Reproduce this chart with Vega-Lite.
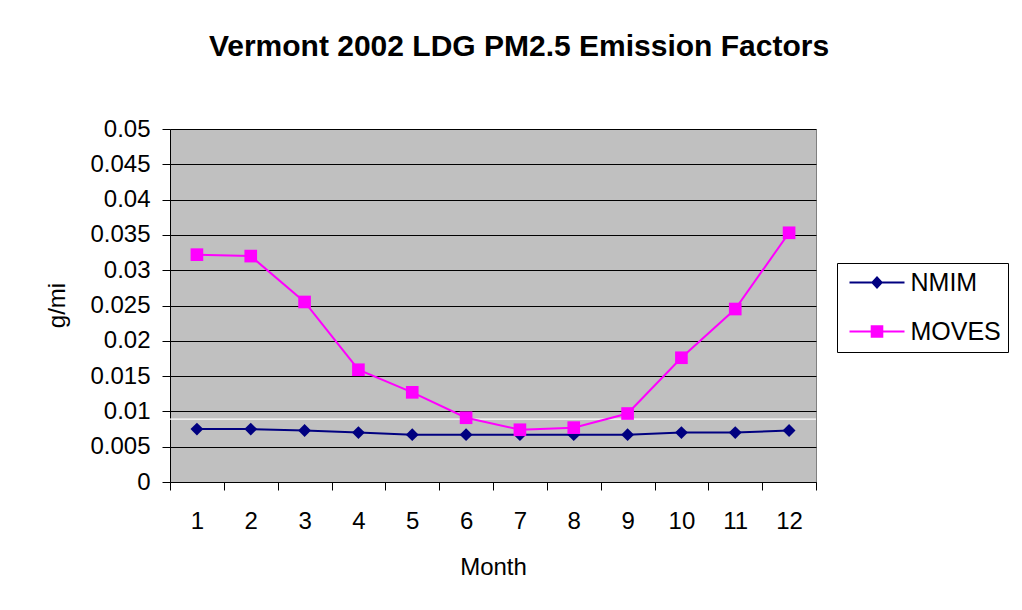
{
  "$schema": "https://vega.github.io/schema/vega-lite/v6.json",
  "width": 646,
  "height": 353,
  "autosize": {"type": "none"},
  "padding": {"left": 170, "top": 129, "right": 206, "bottom": 128},
  "background": "white",
  "title": {
    "text": "Vermont 2002 LDG PM2.5 Emission Factors",
    "font": "Liberation Sans",
    "fontSize": 30,
    "fontWeight": "bold",
    "color": "black",
    "anchor": "middle",
    "frame": "group",
    "baseline": "alphabetic",
    "offset": 31,
    "dx": 26
  },
  "config": {
    "font": "Liberation Sans",
    "view": {"fill": "#C0C0C0", "stroke": "#808080", "strokeWidth": 1}
  },
  "datasets": {
    "series": [
      {"month": 1, "series": "NMIM", "value": 0.0075},
      {"month": 2, "series": "NMIM", "value": 0.0075},
      {"month": 3, "series": "NMIM", "value": 0.0073},
      {"month": 4, "series": "NMIM", "value": 0.0070},
      {"month": 5, "series": "NMIM", "value": 0.0067},
      {"month": 6, "series": "NMIM", "value": 0.0067},
      {"month": 7, "series": "NMIM", "value": 0.0067},
      {"month": 8, "series": "NMIM", "value": 0.0067},
      {"month": 9, "series": "NMIM", "value": 0.0067},
      {"month": 10, "series": "NMIM", "value": 0.0070},
      {"month": 11, "series": "NMIM", "value": 0.0070},
      {"month": 12, "series": "NMIM", "value": 0.0073},
      {"month": 1, "series": "MOVES", "value": 0.0322},
      {"month": 2, "series": "MOVES", "value": 0.0320},
      {"month": 3, "series": "MOVES", "value": 0.0255},
      {"month": 4, "series": "MOVES", "value": 0.0159},
      {"month": 5, "series": "MOVES", "value": 0.0127},
      {"month": 6, "series": "MOVES", "value": 0.0091},
      {"month": 7, "series": "MOVES", "value": 0.0074},
      {"month": 8, "series": "MOVES", "value": 0.0077},
      {"month": 9, "series": "MOVES", "value": 0.0097},
      {"month": 10, "series": "MOVES", "value": 0.0176},
      {"month": 11, "series": "MOVES", "value": 0.0245},
      {"month": 12, "series": "MOVES", "value": 0.0353}
    ],
    "refline": [{"value": 0.0089}]
  },
  "layer": [
    {
      "data": {"name": "refline"},
      "mark": {"type": "rule", "color": "white", "strokeWidth": 1.2},
      "encoding": {
        "y": {
          "field": "value",
          "type": "quantitative",
          "scale": {"domain": [0, 0.05], "nice": false, "zero": true},
          "axis": {
            "tickCount": 10,
            "format": "~g",
            "labelOverlap": false,
            "labelFlush": false,
            "labelBound": false,
            "grid": true,
            "gridColor": "black",
            "gridWidth": 1,
            "gridOpacity": 1,
            "domainColor": "black",
            "domainWidth": 1,
            "tickColor": "black",
            "tickWidth": 1,
            "tickSize": 8,
            "labelFont": "Liberation Sans",
            "labelFontSize": 24,
            "labelColor": "black",
            "labelPadding": 12,
            "title": "g/mi",
            "titleFont": "Liberation Sans",
            "titleFontSize": 24,
            "titleFontWeight": "normal",
            "titleColor": "black",
            "titleAngle": -90,
            "titleAlign": "center",
            "titleBaseline": "alphabetic",
            "titleX": -106,
            "titleY": 176
          }
        }
      }
    },
    {
      "data": {"name": "series"},
      "mark": {"type": "line", "strokeWidth": 2},
      "encoding": {
        "x": {
          "field": "month",
          "type": "quantitative",
          "scale": {"domain": [0.5, 12.5], "nice": false, "zero": false},
          "axis": {
            "values": [0.5, 1.5, 2.5, 3.5, 4.5, 5.5, 6.5, 7.5, 8.5, 9.5, 10.5, 11.5, 12.5],
            "labelExpr": "datum.value < 12 ? format(datum.value + 0.5, 'd') : ''",
            "labelOffset": 26.9,
            "labelFlush": false,
            "labelOverlap": false,
            "labelBound": false,
            "grid": false,
            "domainColor": "black",
            "domainWidth": 1,
            "tickColor": "black",
            "tickWidth": 1,
            "tickSize": 8,
            "labelFont": "Liberation Sans",
            "labelFontSize": 24,
            "labelColor": "black",
            "labelBaseline": "alphabetic",
            "labelPadding": 38,
            "title": "Month",
            "titleFont": "Liberation Sans",
            "titleFontSize": 24,
            "titleFontWeight": "normal",
            "titleColor": "black",
            "titleBaseline": "alphabetic",
            "titleY": 92
          }
        },
        "y": {
          "field": "value",
          "type": "quantitative",
          "scale": {"domain": [0, 0.05], "nice": false, "zero": true},
          "axis": {
            "tickCount": 10,
            "format": "~g",
            "labelOverlap": false,
            "labelFlush": false,
            "labelBound": false,
            "grid": true,
            "gridColor": "black",
            "gridWidth": 1,
            "gridOpacity": 1,
            "domainColor": "black",
            "domainWidth": 1,
            "tickColor": "black",
            "tickWidth": 1,
            "tickSize": 8,
            "labelFont": "Liberation Sans",
            "labelFontSize": 24,
            "labelColor": "black",
            "labelPadding": 12,
            "title": "g/mi",
            "titleFont": "Liberation Sans",
            "titleFontSize": 24,
            "titleFontWeight": "normal",
            "titleColor": "black",
            "titleAngle": -90,
            "titleAlign": "center",
            "titleBaseline": "alphabetic",
            "titleX": -106,
            "titleY": 176
          }
        },
        "color": {
          "field": "series",
          "type": "nominal",
          "scale": {"domain": ["NMIM", "MOVES"], "range": ["#000080", "#FF00FF"]},
          "legend": {
            "title": null,
            "orient": "none",
            "legendX": 667,
            "legendY": 134,
            "padding": 7,
            "fillColor": "white",
            "strokeColor": "black",
            "symbolSize": 400,
            "symbolOffset": 20.5,
            "symbolStrokeWidth": 0,
            "labelOffset": 21,
            "rowPadding": 23,
            "labelFont": "Liberation Sans",
            "labelFontSize": 25,
            "labelColor": "black",
            "encode": {
              "symbols": {
                "update": {
                  "shape": {"signal": "datum.value === 'NMIM' ? 'M-2.75,-0.1H2.75V0.1H-2.75ZM0,-0.65L0.6,0L0,0.65L-0.6,0Z' : 'M-2.75,-0.1H2.75V0.1H-2.75ZM-0.63,-0.63H0.63V0.63H-0.63Z'"},
                  "fill": {"signal": "datum.value === 'NMIM' ? '#000080' : '#FF00FF'"},
                  "fillOpacity": {"value": 1},
                  "opacity": {"value": 1},
                  "stroke": {"value": "transparent"},
                  "strokeWidth": {"value": 0}
                }
              }
            }
          }
        }
      }
    },
    {
      "data": {"name": "series"},
      "transform": [{"filter": "datum.series === 'NMIM'"}],
      "mark": {"type": "point", "shape": "diamond", "filled": true, "size": 165, "opacity": 1},
      "encoding": {
        "x": {"field": "month", "type": "quantitative", "scale": {"domain": [0.5, 12.5], "nice": false, "zero": false}},
        "y": {"field": "value", "type": "quantitative", "scale": {"domain": [0, 0.05], "nice": false, "zero": true}},
        "color": {"field": "series", "type": "nominal", "scale": {"domain": ["NMIM", "MOVES"], "range": ["#000080", "#FF00FF"]}}
      }
    },
    {
      "data": {"name": "series"},
      "transform": [{"filter": "datum.series === 'MOVES'"}],
      "mark": {"type": "point", "shape": "square", "filled": true, "size": 160, "opacity": 1},
      "encoding": {
        "x": {"field": "month", "type": "quantitative", "scale": {"domain": [0.5, 12.5], "nice": false, "zero": false}},
        "y": {"field": "value", "type": "quantitative", "scale": {"domain": [0, 0.05], "nice": false, "zero": true}},
        "color": {"field": "series", "type": "nominal", "scale": {"domain": ["NMIM", "MOVES"], "range": ["#000080", "#FF00FF"]}}
      }
    }
  ]
}
